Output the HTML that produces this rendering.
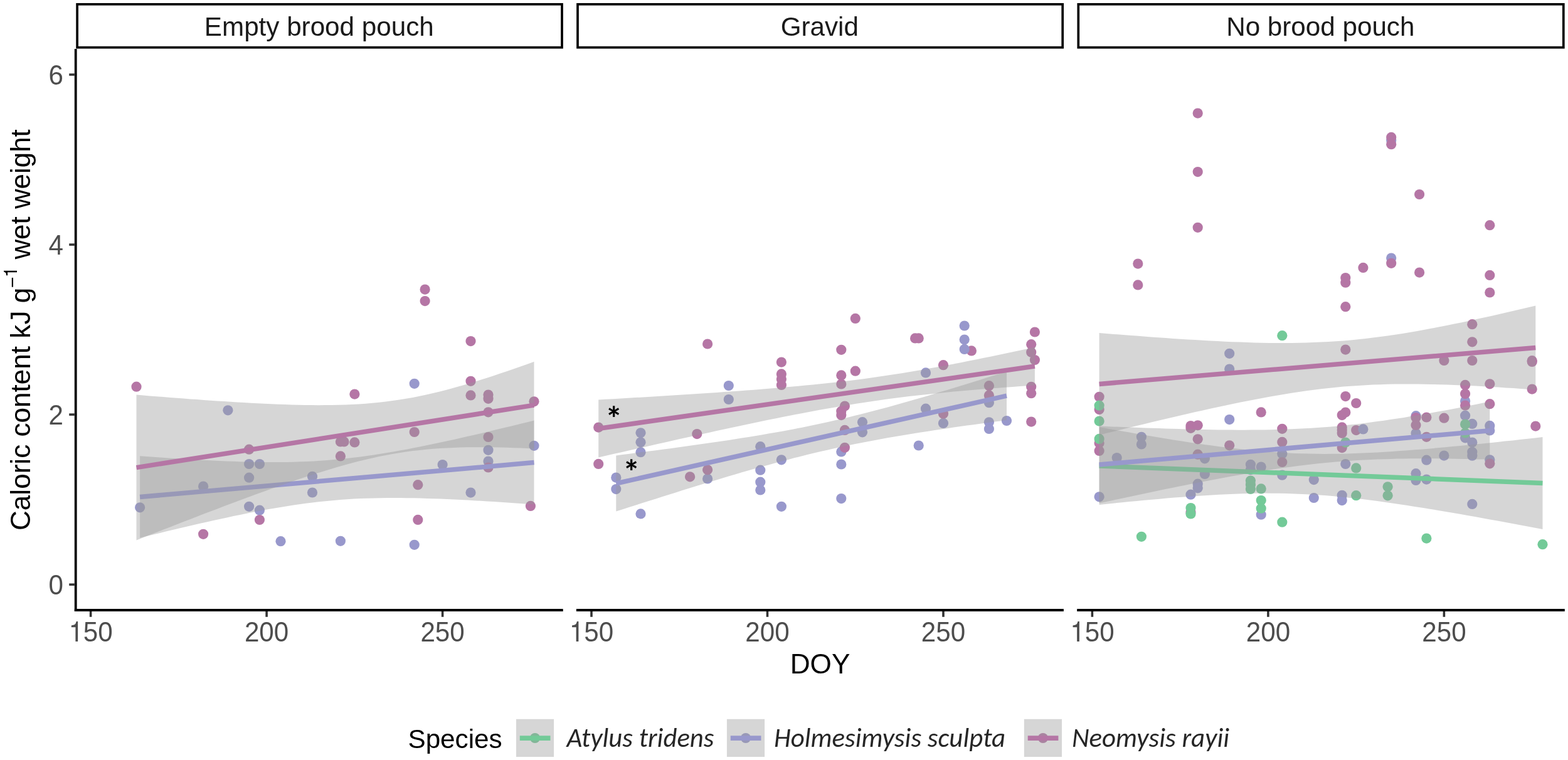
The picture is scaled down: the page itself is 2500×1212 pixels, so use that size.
<!DOCTYPE html><html><head><meta charset="utf-8"><title>Caloric content by DOY</title><style>html,body{margin:0;padding:0;background:#fff;width:2500px;height:1212px;overflow:hidden}svg{display:block}</style></head><body>
<svg width="2500" height="1212" viewBox="0 0 2500 1212">
<rect width="2500" height="1212" fill="#fff"/>
<g fill="#9898CC">
<circle cx="363.4" cy="654.3" r="8.1"/>
<circle cx="397.1" cy="740" r="8.1"/>
<circle cx="413.9" cy="740" r="8.1"/>
<circle cx="397.1" cy="761.7" r="8.1"/>
<circle cx="324.1" cy="775.6" r="8.1"/>
<circle cx="498" cy="759.8" r="8.1"/>
<circle cx="498" cy="785.5" r="8.1"/>
<circle cx="223.1" cy="809.3" r="8.1"/>
<circle cx="397.1" cy="807.8" r="8.1"/>
<circle cx="413.9" cy="813.7" r="8.1"/>
<circle cx="447.5" cy="863.2" r="8.1"/>
<circle cx="705.6" cy="741" r="8.1"/>
<circle cx="851.5" cy="710.8" r="8.1"/>
<circle cx="778.5" cy="717.8" r="8.1"/>
<circle cx="778.5" cy="735.6" r="8.1"/>
<circle cx="750.5" cy="785.6" r="8.1"/>
<circle cx="542.9" cy="862.8" r="8.1"/>
<circle cx="660.7" cy="868.8" r="8.1"/>
<circle cx="660.7" cy="611.8" r="8.1"/>
</g>
<g fill="#B576A5">
<circle cx="217.5" cy="616.7" r="8.1"/>
<circle cx="397.1" cy="716.7" r="8.1"/>
<circle cx="413.9" cy="829" r="8.1"/>
<circle cx="324.1" cy="851.8" r="8.1"/>
<circle cx="565.4" cy="628.6" r="8.1"/>
<circle cx="750.5" cy="607.8" r="8.1"/>
<circle cx="750.5" cy="630.4" r="8.1"/>
<circle cx="778.5" cy="629.6" r="8.1"/>
<circle cx="778.5" cy="635.8" r="8.1"/>
<circle cx="851.5" cy="640.3" r="8.1"/>
<circle cx="778.5" cy="657.3" r="8.1"/>
<circle cx="660.7" cy="689" r="8.1"/>
<circle cx="542.9" cy="704.4" r="8.1"/>
<circle cx="548.5" cy="704.4" r="8.1"/>
<circle cx="565.4" cy="705.4" r="8.1"/>
<circle cx="542.9" cy="727.4" r="8.1"/>
<circle cx="778.5" cy="697" r="8.1"/>
<circle cx="778.5" cy="745.5" r="8.1"/>
<circle cx="666.3" cy="773.2" r="8.1"/>
<circle cx="845.9" cy="806.9" r="8.1"/>
<circle cx="666.3" cy="828.9" r="8.1"/>
<circle cx="677.6" cy="461.6" r="8.1"/>
<circle cx="677.6" cy="480.1" r="8.1"/>
<circle cx="750.5" cy="544.1" r="8.1"/>
</g>
<g fill="#9898CC">
<circle cx="1161.8" cy="615" r="8.1"/>
<circle cx="1161.8" cy="637" r="8.1"/>
<circle cx="1021.5" cy="690.3" r="8.1"/>
<circle cx="1021.5" cy="705.3" r="8.1"/>
<circle cx="1021.5" cy="721.2" r="8.1"/>
<circle cx="982.3" cy="761.6" r="8.1"/>
<circle cx="982.3" cy="780.1" r="8.1"/>
<circle cx="1021.5" cy="819.4" r="8.1"/>
<circle cx="1128.1" cy="763.4" r="8.1"/>
<circle cx="1212.3" cy="712.2" r="8.1"/>
<circle cx="1212.3" cy="749.7" r="8.1"/>
<circle cx="1212.3" cy="768.7" r="8.1"/>
<circle cx="1212.3" cy="781.4" r="8.1"/>
<circle cx="1245.9" cy="733.3" r="8.1"/>
<circle cx="1245.9" cy="807.8" r="8.1"/>
<circle cx="1341.3" cy="720.4" r="8.1"/>
<circle cx="1341.3" cy="740.5" r="8.1"/>
<circle cx="1341.3" cy="795.1" r="8.1"/>
<circle cx="1375" cy="673.2" r="8.1"/>
<circle cx="1375" cy="689.3" r="8.1"/>
<circle cx="1464.7" cy="710.5" r="8.1"/>
<circle cx="1476" cy="594.4" r="8.1"/>
<circle cx="1476" cy="651.7" r="8.1"/>
<circle cx="1504" cy="674.9" r="8.1"/>
<circle cx="1537.7" cy="519.5" r="8.1"/>
<circle cx="1537.7" cy="541.6" r="8.1"/>
<circle cx="1576.9" cy="642.2" r="8.1"/>
<circle cx="1576.9" cy="673.3" r="8.1"/>
<circle cx="1576.9" cy="684" r="8.1"/>
<circle cx="1605" cy="671" r="8.1"/>
</g>
<g fill="#B576A5">
<circle cx="954.2" cy="681.6" r="8.1"/>
<circle cx="954.2" cy="739.9" r="8.1"/>
<circle cx="1128.1" cy="548.5" r="8.1"/>
<circle cx="1111.3" cy="692.1" r="8.1"/>
<circle cx="1100.1" cy="760.3" r="8.1"/>
<circle cx="1128.1" cy="749.2" r="8.1"/>
<circle cx="1245.9" cy="577.6" r="8.1"/>
<circle cx="1245.9" cy="596.4" r="8.1"/>
<circle cx="1245.9" cy="604.5" r="8.1"/>
<circle cx="1245.9" cy="614" r="8.1"/>
<circle cx="1341.3" cy="557.8" r="8.1"/>
<circle cx="1341.3" cy="598.4" r="8.1"/>
<circle cx="1341.3" cy="612.4" r="8.1"/>
<circle cx="1341.3" cy="655.8" r="8.1"/>
<circle cx="1341.3" cy="662.1" r="8.1"/>
<circle cx="1346.9" cy="647.6" r="8.1"/>
<circle cx="1346.9" cy="685.9" r="8.1"/>
<circle cx="1346.9" cy="713.8" r="8.1"/>
<circle cx="1363.8" cy="507.9" r="8.1"/>
<circle cx="1363.8" cy="591.7" r="8.1"/>
<circle cx="1459.1" cy="539.4" r="8.1"/>
<circle cx="1464.7" cy="539.4" r="8.1"/>
<circle cx="1504" cy="582.2" r="8.1"/>
<circle cx="1504" cy="659.7" r="8.1"/>
<circle cx="1548.9" cy="559.4" r="8.1"/>
<circle cx="1576.9" cy="615.2" r="8.1"/>
<circle cx="1576.9" cy="630.4" r="8.1"/>
<circle cx="1644.2" cy="549.2" r="8.1"/>
<circle cx="1644.2" cy="561.8" r="8.1"/>
<circle cx="1644.2" cy="616.8" r="8.1"/>
<circle cx="1644.2" cy="627.2" r="8.1"/>
<circle cx="1644.2" cy="672.6" r="8.1"/>
<circle cx="1649.9" cy="529.5" r="8.1"/>
<circle cx="1649.9" cy="574" r="8.1"/>
</g>
<g fill="#9898CC">
<circle cx="1752.6" cy="792.3" r="8.1"/>
<circle cx="1780.7" cy="730" r="8.1"/>
<circle cx="1819.9" cy="696.8" r="8.1"/>
<circle cx="1819.9" cy="708.5" r="8.1"/>
<circle cx="1898.5" cy="788.7" r="8.1"/>
<circle cx="1909.7" cy="771.7" r="8.1"/>
<circle cx="1909.7" cy="778.3" r="8.1"/>
<circle cx="1920.9" cy="731.3" r="8.1"/>
<circle cx="1920.9" cy="756" r="8.1"/>
<circle cx="1960.2" cy="563.8" r="8.1"/>
<circle cx="1960.2" cy="588.5" r="8.1"/>
<circle cx="1960.2" cy="669.1" r="8.1"/>
<circle cx="1993.9" cy="740.8" r="8.1"/>
<circle cx="1993.9" cy="749.1" r="8.1"/>
<circle cx="2010.7" cy="744.5" r="8.1"/>
<circle cx="2010.7" cy="820.7" r="8.1"/>
<circle cx="2044.3" cy="723.8" r="8.1"/>
<circle cx="2044.3" cy="757.7" r="8.1"/>
<circle cx="2094.8" cy="765.1" r="8.1"/>
<circle cx="2094.8" cy="794" r="8.1"/>
<circle cx="2139.7" cy="789.8" r="8.1"/>
<circle cx="2139.7" cy="798.1" r="8.1"/>
<circle cx="2145.3" cy="740" r="8.1"/>
<circle cx="2218.2" cy="223.7" r="8.1"/>
<circle cx="2218.2" cy="411.5" r="8.1"/>
<circle cx="2257.5" cy="663.2" r="8.1"/>
<circle cx="2257.5" cy="690.9" r="8.1"/>
<circle cx="2257.5" cy="755.2" r="8.1"/>
<circle cx="2257.5" cy="765.9" r="8.1"/>
<circle cx="2274.4" cy="733.7" r="8.1"/>
<circle cx="2274.4" cy="764.6" r="8.1"/>
<circle cx="2302.4" cy="726.6" r="8.1"/>
<circle cx="2336.1" cy="639.6" r="8.1"/>
<circle cx="2336.1" cy="662.7" r="8.1"/>
<circle cx="2336.1" cy="698.3" r="8.1"/>
<circle cx="2347.3" cy="675.9" r="8.1"/>
<circle cx="2347.3" cy="705.6" r="8.1"/>
<circle cx="2347.3" cy="720.8" r="8.1"/>
<circle cx="2347.3" cy="726.7" r="8.1"/>
<circle cx="2347.3" cy="803.9" r="8.1"/>
<circle cx="2375.3" cy="678.9" r="8.1"/>
<circle cx="2375.3" cy="686.5" r="8.1"/>
<circle cx="2375.3" cy="733.3" r="8.1"/>
</g>
<g fill="#B576A5">
<circle cx="1752.6" cy="632.8" r="8.1"/>
<circle cx="1752.6" cy="653.1" r="8.1"/>
<circle cx="1752.6" cy="706.6" r="8.1"/>
<circle cx="1752.6" cy="719" r="8.1"/>
<circle cx="1814.3" cy="420.6" r="8.1"/>
<circle cx="1814.3" cy="454.4" r="8.1"/>
<circle cx="1898.5" cy="679" r="8.1"/>
<circle cx="1898.5" cy="682.8" r="8.1"/>
<circle cx="1898.5" cy="817" r="8.1"/>
<circle cx="1909.7" cy="180.6" r="8.1"/>
<circle cx="1909.7" cy="274.1" r="8.1"/>
<circle cx="1909.7" cy="362.8" r="8.1"/>
<circle cx="1909.7" cy="678.3" r="8.1"/>
<circle cx="1909.7" cy="700.3" r="8.1"/>
<circle cx="1909.7" cy="724.7" r="8.1"/>
<circle cx="1960.2" cy="710.3" r="8.1"/>
<circle cx="2010.7" cy="657.4" r="8.1"/>
<circle cx="2044.3" cy="683.8" r="8.1"/>
<circle cx="2044.3" cy="704.9" r="8.1"/>
<circle cx="2044.3" cy="737" r="8.1"/>
<circle cx="2139.7" cy="662.1" r="8.1"/>
<circle cx="2139.7" cy="714.1" r="8.1"/>
<circle cx="2145.3" cy="443" r="8.1"/>
<circle cx="2145.3" cy="450.7" r="8.1"/>
<circle cx="2145.3" cy="489.2" r="8.1"/>
<circle cx="2145.3" cy="557.6" r="8.1"/>
<circle cx="2145.3" cy="632.1" r="8.1"/>
<circle cx="2145.3" cy="657.6" r="8.1"/>
<circle cx="2162.2" cy="643" r="8.1"/>
<circle cx="2162.2" cy="686.1" r="8.1"/>
<circle cx="2173.4" cy="426.9" r="8.1"/>
<circle cx="2218.2" cy="218.9" r="8.1"/>
<circle cx="2218.2" cy="230.2" r="8.1"/>
<circle cx="2218.2" cy="419.8" r="8.1"/>
<circle cx="2257.5" cy="666.1" r="8.1"/>
<circle cx="2257.5" cy="678" r="8.1"/>
<circle cx="2263.1" cy="310" r="8.1"/>
<circle cx="2263.1" cy="434.6" r="8.1"/>
<circle cx="2274.4" cy="665.5" r="8.1"/>
<circle cx="2274.4" cy="696.8" r="8.1"/>
<circle cx="2302.4" cy="575" r="8.1"/>
<circle cx="2302.4" cy="666.7" r="8.1"/>
<circle cx="2336.1" cy="613.9" r="8.1"/>
<circle cx="2336.1" cy="628.1" r="8.1"/>
<circle cx="2336.1" cy="646.5" r="8.1"/>
<circle cx="2347.3" cy="517.2" r="8.1"/>
<circle cx="2347.3" cy="545.3" r="8.1"/>
<circle cx="2347.3" cy="575" r="8.1"/>
<circle cx="2375.3" cy="359.2" r="8.1"/>
<circle cx="2375.3" cy="438.9" r="8.1"/>
<circle cx="2375.3" cy="466.5" r="8.1"/>
<circle cx="2375.3" cy="612.3" r="8.1"/>
<circle cx="2375.3" cy="644.2" r="8.1"/>
<circle cx="2375.3" cy="739.3" r="8.1"/>
<circle cx="2442.7" cy="575.2" r="8.1"/>
<circle cx="2442.7" cy="577" r="8.1"/>
<circle cx="2442.7" cy="620.6" r="8.1"/>
<circle cx="2448.3" cy="679.6" r="8.1"/>
</g>
<g fill="#73CA98">
<circle cx="1752.6" cy="646.7" r="8.1"/>
<circle cx="1752.6" cy="671.6" r="8.1"/>
<circle cx="1752.6" cy="699.9" r="8.1"/>
<circle cx="1819.9" cy="855.8" r="8.1"/>
<circle cx="1898.5" cy="810" r="8.1"/>
<circle cx="1898.5" cy="819.5" r="8.1"/>
<circle cx="1993.9" cy="766.6" r="8.1"/>
<circle cx="1993.9" cy="773" r="8.1"/>
<circle cx="1993.9" cy="780" r="8.1"/>
<circle cx="2010.7" cy="779.4" r="8.1"/>
<circle cx="2010.7" cy="798" r="8.1"/>
<circle cx="2010.7" cy="810.7" r="8.1"/>
<circle cx="2044.3" cy="535.2" r="8.1"/>
<circle cx="2044.3" cy="832.7" r="8.1"/>
<circle cx="2145.3" cy="705.6" r="8.1"/>
<circle cx="2162.2" cy="746.4" r="8.1"/>
<circle cx="2162.2" cy="790.2" r="8.1"/>
<circle cx="2212.6" cy="776.3" r="8.1"/>
<circle cx="2212.6" cy="790.3" r="8.1"/>
<circle cx="2274.4" cy="858.6" r="8.1"/>
<circle cx="2336.1" cy="676.6" r="8.1"/>
<circle cx="2336.1" cy="690.4" r="8.1"/>
<circle cx="2459.5" cy="868.2" r="8.1"/>
</g>
<g fill="#9898CC">
<circle cx="1537.7" cy="556.9" r="8.1"/>
<circle cx="2173.4" cy="684.4" r="8.1"/>
</g>
<g fill="#B576A5">
<circle cx="2139.7" cy="681.4" r="8.1"/>
<circle cx="2139.7" cy="686.1" r="8.1"/>
<circle cx="2139.7" cy="690.8" r="8.1"/>
</g>
<polygon points="223.1,727.3 233.8,728.1 244.4,728.8 255.1,729.6 265.7,730.3 276.4,731 287,731.6 297.7,732.3 308.3,732.9 319,733.4 329.6,734 340.3,734.5 350.9,735 361.6,735.4 372.2,735.8 382.9,736.2 393.5,736.5 404.2,736.7 414.8,736.9 425.5,737 436.1,737.1 446.8,737 457.4,736.9 468.1,736.7 478.7,736.3 489.4,735.9 500,735.4 510.7,734.7 521.3,734 532,733.1 542.6,732.1 553.3,731 563.9,729.8 574.6,728.4 585.2,727 595.9,725.4 606.5,723.8 617.2,722.1 627.8,720.2 638.5,718.3 649.1,716.4 659.8,714.3 670.4,712.2 681.1,710 691.7,707.8 702.4,705.6 713,703.3 723.7,700.9 734.3,698.5 745,696.1 755.6,693.7 766.3,691.2 776.9,688.7 787.6,686.1 798.2,683.6 808.9,681 819.5,678.4 830.2,675.8 840.8,673.2 851.5,670.6 851.5,804.5 840.8,803.8 830.2,803 819.5,802.3 808.9,801.5 798.2,800.8 787.6,800.1 776.9,799.5 766.3,798.8 755.6,798.2 745,797.6 734.3,797.1 723.7,796.6 713,796.1 702.4,795.6 691.7,795.2 681.1,794.9 670.4,794.6 659.8,794.3 649.1,794.2 638.5,794 627.8,794 617.2,794 606.5,794.2 595.9,794.4 585.2,794.7 574.6,795.1 563.9,795.6 553.3,796.3 542.6,797 532,797.9 521.3,798.9 510.7,800 500,801.2 489.4,802.5 478.7,804 468.1,805.5 457.4,807.2 446.8,808.9 436.1,810.7 425.5,812.6 414.8,814.6 404.2,816.6 393.5,818.7 382.9,820.9 372.2,823.1 361.6,825.4 350.9,827.7 340.3,830 329.6,832.4 319,834.8 308.3,837.3 297.7,839.8 287,842.3 276.4,844.8 265.7,847.3 255.1,849.9 244.4,852.5 233.8,855.1 223.1,857.7" fill="#999999" fill-opacity="0.4"/>
<line x1="223.1" y1="792.5" x2="851.5" y2="737.6" stroke="#9898CC" stroke-width="7.5"/>
<polygon points="217.5,629.6 228.3,630.5 239,631.4 249.8,632.2 260.5,633.1 271.3,633.9 282,634.8 292.7,635.6 303.5,636.4 314.2,637.1 325,637.9 335.7,638.7 346.5,639.4 357.2,640.1 368,640.8 378.7,641.4 389.4,642.1 400.2,642.7 410.9,643.2 421.7,643.8 432.4,644.2 443.2,644.7 453.9,645.1 464.7,645.4 475.4,645.7 486.1,645.9 496.9,646.1 507.6,646.2 518.4,646.1 529.1,646 539.9,645.8 550.6,645.5 561.4,645 572.1,644.4 582.8,643.7 593.6,642.8 604.3,641.7 615.1,640.5 625.8,639.1 636.6,637.5 647.3,635.8 658.1,633.9 668.8,631.7 679.5,629.5 690.3,627 701,624.4 711.8,621.7 722.5,618.8 733.3,615.8 744,612.7 754.8,609.4 765.5,606.1 776.2,602.7 787,599.2 797.7,595.6 808.5,592 819.2,588.3 830,584.5 840.7,580.7 851.5,576.8 851.5,715.4 840.7,715 830,714.5 819.2,714.2 808.5,713.8 797.7,713.6 787,713.3 776.2,713.2 765.5,713.2 754.8,713.2 744,713.3 733.3,713.6 722.5,714 711.8,714.4 701,715.1 690.3,715.8 679.5,716.8 668.8,717.9 658.1,719.1 647.3,720.6 636.6,722.2 625.8,724 615.1,725.9 604.3,728.1 593.6,730.4 582.8,732.9 572.1,735.5 561.4,738.3 550.6,741.2 539.9,744.3 529.1,747.4 518.4,750.7 507.6,754 496.9,757.5 486.1,761 475.4,764.6 464.7,768.2 453.9,771.9 443.2,775.7 432.4,779.5 421.7,783.4 410.9,787.3 400.2,791.2 389.4,795.2 378.7,799.2 368,803.2 357.2,807.3 346.5,811.4 335.7,815.5 325,819.6 314.2,823.7 303.5,827.9 292.7,832 282,836.2 271.3,840.4 260.5,844.6 249.8,848.8 239,853.1 228.3,857.3 217.5,861.6" fill="#999999" fill-opacity="0.4"/>
<line x1="217.5" y1="745.6" x2="851.5" y2="646.1" stroke="#B576A5" stroke-width="7.5"/>
<polygon points="982.3,726.4 992.8,725 1003.4,723.7 1013.9,722.3 1024.5,721 1035,719.6 1045.6,718.2 1056.2,716.8 1066.7,715.4 1077.3,714 1087.8,712.5 1098.4,711.1 1108.9,709.6 1119.5,708.1 1130,706.6 1140.6,705.1 1151.1,703.5 1161.7,701.9 1172.2,700.3 1182.8,698.6 1193.4,696.9 1203.9,695.2 1214.5,693.4 1225,691.6 1235.6,689.8 1246.1,687.9 1256.7,685.9 1267.2,683.9 1277.8,681.9 1288.3,679.7 1298.9,677.5 1309.5,675.3 1320,673 1330.6,670.6 1341.1,668.2 1351.7,665.7 1362.2,663.1 1372.8,660.5 1383.3,657.8 1393.9,655 1404.4,652.2 1415,649.4 1425.6,646.5 1436.1,643.5 1446.7,640.5 1457.2,637.5 1467.8,634.5 1478.3,631.4 1488.9,628.2 1499.4,625.1 1510,621.9 1520.5,618.7 1531.1,615.5 1541.7,612.2 1552.2,608.9 1562.8,605.7 1573.3,602.3 1583.9,599 1594.4,595.7 1605,592.4 1605,670 1594.4,671.4 1583.9,672.8 1573.3,674.3 1562.8,675.7 1552.2,677.2 1541.7,678.6 1531.1,680.1 1520.5,681.6 1510,683.2 1499.4,684.7 1488.9,686.3 1478.3,687.9 1467.8,689.6 1457.2,691.2 1446.7,692.9 1436.1,694.7 1425.6,696.5 1415,698.3 1404.4,700.2 1393.9,702.2 1383.3,704.2 1372.8,706.2 1362.2,708.3 1351.7,710.5 1341.1,712.7 1330.6,715 1320,717.4 1309.5,719.8 1298.9,722.3 1288.3,724.8 1277.8,727.5 1267.2,730.1 1256.7,732.9 1246.1,735.6 1235.6,738.5 1225,741.4 1214.5,744.3 1203.9,747.3 1193.4,750.3 1182.8,753.3 1172.2,756.4 1161.7,759.5 1151.1,762.7 1140.6,765.9 1130,769.1 1119.5,772.3 1108.9,775.5 1098.4,778.8 1087.8,782.1 1077.3,785.4 1066.7,788.7 1056.2,792 1045.6,795.4 1035,798.7 1024.5,802.1 1013.9,805.5 1003.4,808.8 992.8,812.2 982.3,815.6" fill="#999999" fill-opacity="0.4"/>
<line x1="982.3" y1="771" x2="1605" y2="631.2" stroke="#9898CC" stroke-width="7.5"/>
<polygon points="954.2,637.5 966,636.8 977.8,636.2 989.6,635.5 1001.4,634.8 1013.2,634.1 1025,633.4 1036.8,632.7 1048.5,632 1060.3,631.3 1072.1,630.5 1083.9,629.8 1095.7,629 1107.5,628.3 1119.3,627.5 1131.1,626.7 1142.9,625.9 1154.7,625.1 1166.4,624.3 1178.2,623.4 1190,622.6 1201.8,621.7 1213.6,620.7 1225.4,619.8 1237.2,618.8 1249,617.8 1260.8,616.8 1272.6,615.7 1284.4,614.6 1296.1,613.5 1307.9,612.2 1319.7,611 1331.5,609.7 1343.3,608.3 1355.1,606.9 1366.9,605.4 1378.7,603.9 1390.5,602.3 1402.3,600.6 1414,598.8 1425.8,597 1437.6,595.2 1449.4,593.2 1461.2,591.2 1473,589.2 1484.8,587.1 1496.6,584.9 1508.4,582.7 1520.2,580.5 1532,578.2 1543.7,575.8 1555.5,573.5 1567.3,571.1 1579.1,568.7 1590.9,566.2 1602.7,563.7 1614.5,561.2 1626.3,558.7 1638.1,556.2 1649.9,553.6 1649.9,614.4 1638.1,615.2 1626.3,616 1614.5,616.9 1602.7,617.8 1590.9,618.7 1579.1,619.6 1567.3,620.5 1555.5,621.5 1543.7,622.5 1532,623.6 1520.2,624.6 1508.4,625.8 1496.6,626.9 1484.8,628.2 1473,629.4 1461.2,630.7 1449.4,632.1 1437.6,633.6 1425.8,635.1 1414,636.6 1402.3,638.2 1390.5,639.9 1378.7,641.7 1366.9,643.5 1355.1,645.4 1343.3,647.4 1331.5,649.4 1319.7,651.4 1307.9,653.6 1296.1,655.7 1284.4,658 1272.6,660.2 1260.8,662.5 1249,664.8 1237.2,667.2 1225.4,669.6 1213.6,672.1 1201.8,674.5 1190,677 1178.2,679.5 1166.4,682 1154.7,684.6 1142.9,687.1 1131.1,689.7 1119.3,692.3 1107.5,694.9 1095.7,697.5 1083.9,700.1 1072.1,702.7 1060.3,705.4 1048.5,708 1036.8,710.7 1025,713.4 1013.2,716 1001.4,718.7 989.6,721.4 977.8,724.1 966,726.8 954.2,729.5" fill="#999999" fill-opacity="0.4"/>
<line x1="954.2" y1="683.5" x2="1649.9" y2="584" stroke="#B576A5" stroke-width="7.5"/>
<polygon points="1752.6,681 1764.6,683.2 1776.6,685.4 1788.6,687.5 1800.5,689.6 1812.5,691.7 1824.5,693.8 1836.5,695.8 1848.5,697.8 1860.4,699.8 1872.4,701.7 1884.4,703.6 1896.4,705.4 1908.4,707.2 1920.3,708.9 1932.3,710.6 1944.3,712.2 1956.3,713.7 1968.3,715.1 1980.3,716.5 1992.2,717.7 2004.2,718.9 2016.2,719.9 2028.2,720.8 2040.2,721.6 2052.1,722.3 2064.1,722.9 2076.1,723.3 2088.1,723.6 2100.1,723.8 2112,723.9 2124,723.8 2136,723.7 2148,723.4 2160,723 2171.9,722.6 2183.9,722 2195.9,721.4 2207.9,720.7 2219.9,720 2231.8,719.1 2243.8,718.3 2255.8,717.3 2267.8,716.4 2279.8,715.4 2291.8,714.3 2303.7,713.2 2315.7,712.1 2327.7,711 2339.7,709.8 2351.7,708.6 2363.6,707.4 2375.6,706.2 2387.6,704.9 2399.6,703.6 2411.6,702.4 2423.5,701 2435.5,699.7 2447.5,698.4 2459.5,697.1 2459.5,844 2447.5,841.8 2435.5,839.5 2423.5,837.2 2411.6,835 2399.6,832.8 2387.6,830.6 2375.6,828.4 2363.6,826.2 2351.7,824.1 2339.7,822 2327.7,819.8 2315.7,817.8 2303.7,815.7 2291.8,813.7 2279.8,811.7 2267.8,809.8 2255.8,807.9 2243.8,806 2231.8,804.2 2219.9,802.5 2207.9,800.8 2195.9,799.1 2183.9,797.6 2171.9,796.1 2160,794.7 2148,793.4 2136,792.2 2124,791.1 2112,790.1 2100.1,789.3 2088.1,788.5 2076.1,787.9 2064.1,787.4 2052.1,787 2040.2,786.8 2028.2,786.7 2016.2,786.6 2004.2,786.8 1992.2,787 1980.3,787.3 1968.3,787.7 1956.3,788.2 1944.3,788.8 1932.3,789.4 1920.3,790.2 1908.4,790.9 1896.4,791.8 1884.4,792.7 1872.4,793.6 1860.4,794.6 1848.5,795.7 1836.5,796.7 1824.5,797.8 1812.5,799 1800.5,800.1 1788.6,801.3 1776.6,802.5 1764.6,803.7 1752.6,805" fill="#999999" fill-opacity="0.4"/>
<line x1="1752.6" y1="743" x2="2459.5" y2="770.5" stroke="#73CA98" stroke-width="7.5"/>
<polygon points="1752.6,679.5 1763.2,680 1773.7,680.4 1784.3,680.8 1794.8,681.2 1805.4,681.6 1815.9,682 1826.5,682.4 1837.1,682.8 1847.6,683.1 1858.2,683.5 1868.7,683.8 1879.3,684.1 1889.8,684.4 1900.4,684.6 1910.9,684.9 1921.5,685.1 1932,685.3 1942.6,685.4 1953.2,685.5 1963.7,685.6 1974.3,685.7 1984.8,685.7 1995.4,685.6 2005.9,685.5 2016.5,685.4 2027,685.2 2037.6,685 2048.1,684.6 2058.7,684.3 2069.3,683.8 2079.8,683.3 2090.4,682.7 2100.9,682 2111.5,681.2 2122,680.4 2132.6,679.4 2143.1,678.4 2153.7,677.3 2164.2,676.2 2174.8,674.9 2185.4,673.6 2195.9,672.1 2206.5,670.7 2217,669.1 2227.6,667.5 2238.1,665.9 2248.7,664.1 2259.2,662.4 2269.8,660.6 2280.3,658.7 2290.9,656.8 2301.4,654.9 2312,652.9 2322.6,650.9 2333.1,648.9 2343.7,646.8 2354.2,644.7 2364.8,642.6 2375.3,640.5 2375.3,732.9 2364.8,732.6 2354.2,732.4 2343.7,732.1 2333.1,731.9 2322.6,731.7 2312,731.6 2301.4,731.4 2290.9,731.3 2280.3,731.3 2269.8,731.3 2259.2,731.3 2248.7,731.3 2238.1,731.5 2227.6,731.6 2217,731.9 2206.5,732.2 2195.9,732.5 2185.4,733 2174.8,733.5 2164.2,734.1 2153.7,734.7 2143.1,735.5 2132.6,736.3 2122,737.2 2111.5,738.2 2100.9,739.3 2090.4,740.4 2079.8,741.7 2069.3,743 2058.7,744.4 2048.1,745.8 2037.6,747.3 2027,748.9 2016.5,750.6 2005.9,752.3 1995.4,754 1984.8,755.8 1974.3,757.7 1963.7,759.6 1953.2,761.5 1942.6,763.5 1932,765.5 1921.5,767.5 1910.9,769.5 1900.4,771.6 1889.8,773.7 1879.3,775.8 1868.7,778 1858.2,780.1 1847.6,782.3 1837.1,784.5 1826.5,786.7 1815.9,788.9 1805.4,791.2 1794.8,793.4 1784.3,795.7 1773.7,797.9 1763.2,800.2 1752.6,802.5" fill="#999999" fill-opacity="0.4"/>
<line x1="1752.6" y1="741" x2="2375.3" y2="686.7" stroke="#9898CC" stroke-width="7.5"/>
<polygon points="1752.6,531 1764.4,531.9 1776.2,532.9 1788,533.8 1799.8,534.7 1811.6,535.6 1823.4,536.5 1835.2,537.4 1846.9,538.3 1858.7,539.1 1870.5,539.9 1882.3,540.7 1894.1,541.4 1905.9,542.1 1917.7,542.8 1929.5,543.5 1941.3,544.1 1953.1,544.7 1964.8,545.2 1976.6,545.6 1988.4,546 2000.2,546.4 2012,546.7 2023.8,546.9 2035.6,547 2047.4,547 2059.2,547 2071,546.8 2082.8,546.5 2094.5,546.1 2106.3,545.6 2118.1,545 2129.9,544.3 2141.7,543.4 2153.5,542.4 2165.3,541.3 2177.1,540 2188.9,538.6 2200.7,537.1 2212.4,535.5 2224.2,533.7 2236,531.9 2247.8,529.9 2259.6,527.9 2271.4,525.8 2283.2,523.6 2295,521.3 2306.8,519 2318.6,516.6 2330.4,514.2 2342.1,511.7 2353.9,509.1 2365.7,506.5 2377.5,503.9 2389.3,501.3 2401.1,498.6 2412.9,495.8 2424.7,493.1 2436.5,490.3 2448.3,487.5 2448.3,621.6 2436.5,620.7 2424.7,619.9 2412.9,619.1 2401.1,618.4 2389.3,617.6 2377.5,616.9 2365.7,616.3 2353.9,615.6 2342.1,615.1 2330.4,614.5 2318.6,614 2306.8,613.6 2295,613.2 2283.2,612.9 2271.4,612.7 2259.6,612.5 2247.8,612.5 2236,612.5 2224.2,612.6 2212.4,612.8 2200.7,613.2 2188.9,613.6 2177.1,614.2 2165.3,614.9 2153.5,615.7 2141.7,616.6 2129.9,617.7 2118.1,618.9 2106.3,620.3 2094.5,621.7 2082.8,623.3 2071,625 2059.2,626.8 2047.4,628.7 2035.6,630.7 2023.8,632.8 2012,634.9 2000.2,637.2 1988.4,639.5 1976.6,641.8 1964.8,644.3 1953.1,646.7 1941.3,649.3 1929.5,651.8 1917.7,654.4 1905.9,657.1 1894.1,659.8 1882.3,662.5 1870.5,665.2 1858.7,668 1846.9,670.8 1835.2,673.6 1823.4,676.4 1811.6,679.3 1799.8,682.1 1788,685 1776.2,687.9 1764.4,690.8 1752.6,693.7" fill="#999999" fill-opacity="0.4"/>
<line x1="1752.6" y1="612.4" x2="2448.3" y2="554.5" stroke="#B576A5" stroke-width="7.5"/>
<g font-family="Carlito, DejaVu Sans, sans-serif" font-weight="bold" font-size="55" text-anchor="middle" fill="#000">
<text x="978.8" y="686.2">*</text><text x="1006.6" y="771.2">*</text>
</g>
<rect x="123.1" y="6.8" width="772.9" height="68.9" fill="#fff" stroke="#000" stroke-width="3.7"/>
<text x="508.8" y="57.2" font-family="Liberation Sans, Arial, Helvetica, sans-serif" font-size="42.2" fill="#1A1A1A" text-anchor="middle">Empty brood pouch</text>
<rect x="921" y="6.8" width="773.2" height="68.9" fill="#fff" stroke="#000" stroke-width="3.7"/>
<text x="1306.8" y="57.2" font-family="Liberation Sans, Arial, Helvetica, sans-serif" font-size="42.2" fill="#1A1A1A" text-anchor="middle">Gravid</text>
<rect x="1719.3" y="6.8" width="773.5" height="68.9" fill="#fff" stroke="#000" stroke-width="3.7"/>
<text x="2105.3" y="57.2" font-family="Liberation Sans, Arial, Helvetica, sans-serif" font-size="42.2" fill="#1A1A1A" text-anchor="middle">No brood pouch</text>
<g stroke="#000" stroke-width="3.8" fill="none">
<line x1="120.7" y1="78" x2="120.7" y2="975"/>
<line x1="118.8" y1="973" x2="897.7" y2="973"/>
<line x1="918.9" y1="973" x2="1695.9" y2="973"/>
<line x1="1717.2" y1="973" x2="2494.8" y2="973"/>
</g>
<g stroke="#333333" stroke-width="3.6">
<line x1="110.2" y1="932.2" x2="120" y2="932.2"/>
<line x1="110.2" y1="661.1" x2="120" y2="661.1"/>
<line x1="110.2" y1="390.1" x2="120" y2="390.1"/>
<line x1="110.2" y1="119" x2="120" y2="119"/>
<line x1="144.6" y1="975" x2="144.6" y2="983.8"/>
<line x1="425.1" y1="975" x2="425.1" y2="983.8"/>
<line x1="705.6" y1="975" x2="705.6" y2="983.8"/>
<line x1="943" y1="975" x2="943" y2="983.8"/>
<line x1="1223.5" y1="975" x2="1223.5" y2="983.8"/>
<line x1="1504" y1="975" x2="1504" y2="983.8"/>
<line x1="1741.4" y1="975" x2="1741.4" y2="983.8"/>
<line x1="2021.9" y1="975" x2="2021.9" y2="983.8"/>
<line x1="2302.4" y1="975" x2="2302.4" y2="983.8"/>
</g>
<g font-family="Liberation Sans, Arial, Helvetica, sans-serif" font-size="42.2" fill="#4D4D4D">
<text transform="translate(101,948.4) scale(1,1.055)" text-anchor="end">0</text>
<text transform="translate(101,677.3) scale(1,1.055)" text-anchor="end">2</text>
<text transform="translate(101,406.3) scale(1,1.055)" text-anchor="end">4</text>
<text transform="translate(101,135.2) scale(1,1.055)" text-anchor="end">6</text>
<text transform="translate(144.6,1022.9) scale(1,1.055)" text-anchor="middle"><tspan font-family="TeX Gyre Heros, Liberation Sans, Arial, sans-serif">1</tspan>50</text>
<text transform="translate(425.1,1022.9) scale(1,1.055)" text-anchor="middle">200</text>
<text transform="translate(705.6,1022.9) scale(1,1.055)" text-anchor="middle">250</text>
<text transform="translate(943,1022.9) scale(1,1.055)" text-anchor="middle"><tspan font-family="TeX Gyre Heros, Liberation Sans, Arial, sans-serif">1</tspan>50</text>
<text transform="translate(1223.5,1022.9) scale(1,1.055)" text-anchor="middle">200</text>
<text transform="translate(1504,1022.9) scale(1,1.055)" text-anchor="middle">250</text>
<text transform="translate(1741.4,1022.9) scale(1,1.055)" text-anchor="middle"><tspan font-family="TeX Gyre Heros, Liberation Sans, Arial, sans-serif">1</tspan>50</text>
<text transform="translate(2021.9,1022.9) scale(1,1.055)" text-anchor="middle">200</text>
<text transform="translate(2302.4,1022.9) scale(1,1.055)" text-anchor="middle">250</text>
</g>
<text x="1307.6" y="1073.7" font-family="Liberation Sans, Arial, Helvetica, sans-serif" font-size="44.2" fill="#000" text-anchor="middle">DOY</text>
<g font-family="Liberation Sans, Arial, Helvetica, sans-serif" fill="#000">
<text transform="translate(48,846) rotate(-90)" font-size="44.1">Caloric content kJ g</text>
<text transform="translate(29.5,459.1) rotate(-90)" font-size="30.5">−</text>
<text transform="translate(26.7,442.3) rotate(-90)" font-size="30.5" font-family="TeX Gyre Heros, Liberation Sans, Arial, sans-serif">1</text>
<text transform="translate(48,413.6) rotate(-90)" font-size="43.9">wet weight</text>
</g>
<text x="650.5" y="1192.9" font-family="Liberation Sans, Arial, Helvetica, sans-serif" font-size="42.2" fill="#000">Species</text>
<circle cx="853" cy="1177" r="8.1" fill="#73CA98"/>
<rect x="822.9" y="1146.8" width="60.2" height="60.2" fill="#999999" fill-opacity="0.4"/>
<line x1="828.8" y1="1177.1" x2="877.5" y2="1177.1" stroke="#73CA98" stroke-width="7.6"/>
<text x="903.5" y="1190.7" font-family="Carlito, Liberation Sans, sans-serif" font-style="italic" font-size="42.8" fill="#262626" textLength="235" lengthAdjust="spacingAndGlyphs">Atylus tridens</text>
<circle cx="1189" cy="1177" r="8.1" fill="#9898CC"/>
<rect x="1158.9" y="1146.8" width="60.2" height="60.2" fill="#999999" fill-opacity="0.4"/>
<line x1="1164.8" y1="1177.1" x2="1213.5" y2="1177.1" stroke="#9898CC" stroke-width="7.6"/>
<text x="1233.9" y="1190.7" font-family="Carlito, Liberation Sans, sans-serif" font-style="italic" font-size="42.8" fill="#262626" textLength="369.1" lengthAdjust="spacingAndGlyphs">Holmesimysis sculpta</text>
<circle cx="1662.9" cy="1177" r="8.1" fill="#B576A5"/>
<rect x="1632.8" y="1146.8" width="60.2" height="60.2" fill="#999999" fill-opacity="0.4"/>
<line x1="1638.7" y1="1177.1" x2="1687.4" y2="1177.1" stroke="#B576A5" stroke-width="7.6"/>
<text x="1708.9" y="1190.7" font-family="Carlito, Liberation Sans, sans-serif" font-style="italic" font-size="42.8" fill="#262626" textLength="251.2" lengthAdjust="spacingAndGlyphs">Neomysis rayii</text>
</svg></body></html>
